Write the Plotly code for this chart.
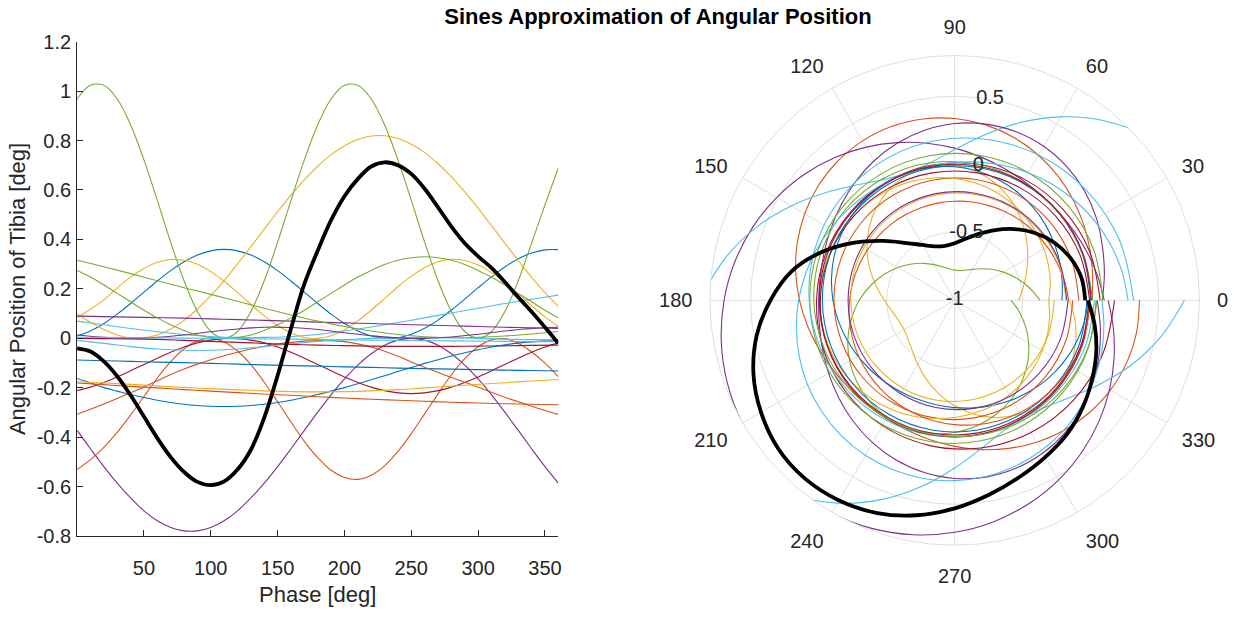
import plotly.graph_objects as go

# Phase samples (deg)
PHASE_10 = list(range(0, 361, 10))
PHASE_20 = list(range(0, 361, 20))

# Sine components of the tibia angle (deg)
BLUE_1 = [0.01, 0.03, 0.06, 0.098, 0.141, 0.187, 0.232, 0.274, 0.31, 0.337, 0.354, 0.36, 0.354, 0.337, 0.31, 0.274,
          0.232, 0.187, 0.141, 0.098, 0.06, 0.03, 0.01, 0.001, 0.003, 0.017, 0.041, 0.074, 0.115, 0.159, 0.205,
          0.249, 0.289, 0.322, 0.345, 0.358, 0.359]
BLUE_2 = [-0.087, -0.09, -0.093, -0.096, -0.098, -0.101, -0.104, -0.107, -0.11, -0.112, -0.115, -0.117, -0.12,
          -0.122, -0.124, -0.126, -0.128, -0.13, -0.132]
BLUE_3 = [-0.162, -0.18, -0.199, -0.213, -0.227, -0.239, -0.25, -0.259, -0.266, -0.271, -0.274, -0.275, -0.274,
          -0.271, -0.266, -0.259, -0.25, -0.239, -0.227, -0.213, -0.199, -0.183, -0.167, -0.151, -0.134, -0.118,
          -0.101, -0.086, -0.071, -0.058, -0.046, -0.035, -0.026, -0.019, -0.014, -0.011, -0.01]
ORANGE_1 = [-0.53, -0.49, -0.44, -0.38, -0.31, -0.235, -0.16, -0.094, -0.042, -0.01, 0.0, -0.014, -0.051, -0.106,
            -0.177, -0.256, -0.338, -0.416, -0.482, -0.533, -0.562, -0.57, -0.553, -0.515, -0.457, -0.385, -0.305,
            -0.224, -0.147, -0.082, -0.034, -0.006, -0.001, -0.02, -0.055, -0.1, -0.155]
ORANGE_2 = [-0.307, -0.286, -0.265, -0.243, -0.22, -0.196, -0.171, -0.146, -0.124, -0.104, -0.086, -0.07, -0.056,
            -0.043, -0.032, -0.023, -0.016, -0.011, -0.009, -0.009, -0.013, -0.022, -0.035, -0.052, -0.072, -0.095,
            -0.117, -0.138, -0.158, -0.177, -0.197, -0.218, -0.238, -0.256, -0.274, -0.291, -0.307]
ORANGE_3 = [-0.18, -0.187, -0.194, -0.2, -0.207, -0.213, -0.219, -0.225, -0.23, -0.236, -0.241, -0.246, -0.25,
            -0.254, -0.258, -0.261, -0.264, -0.266, -0.268]
YELLOW_1 = [0.1, 0.065, 0.036, 0.014, 0.002, 0.002, 0.014, 0.038, 0.073, 0.119, 0.173, 0.234, 0.301, 0.371, 0.442,
            0.512, 0.579, 0.641, 0.696, 0.743, 0.779, 0.804, 0.818, 0.819, 0.808, 0.785, 0.751, 0.706, 0.653, 0.592,
            0.526, 0.456, 0.385, 0.315, 0.247, 0.185, 0.129]
YELLOW_2 = [0.085, 0.118, 0.156, 0.204, 0.248, 0.283, 0.308, 0.319, 0.316, 0.3, 0.27, 0.231, 0.185, 0.137, 0.091,
            0.052, 0.022, 0.004, 0.0, 0.011, 0.035, 0.071, 0.114, 0.161, 0.209, 0.252, 0.286, 0.31, 0.32, 0.315,
            0.297, 0.267, 0.226, 0.18, 0.132, 0.087, 0.048]
YELLOW_3 = [-0.175, -0.18, -0.186, -0.192, -0.198, -0.203, -0.208, -0.212, -0.215, -0.216, -0.215, -0.212, -0.207,
            -0.2, -0.193, -0.186, -0.179, -0.172, -0.166]
PURPLE_1 = [-0.372, -0.446, -0.518, -0.585, -0.645, -0.697, -0.737, -0.764, -0.778, -0.778, -0.764, -0.737, -0.697,
            -0.645, -0.585, -0.518, -0.446, -0.372, -0.298, -0.228, -0.164, -0.108, -0.062, -0.028, -0.007, 0.0,
            -0.007, -0.028, -0.062, -0.108, -0.164, -0.228, -0.298, -0.372, -0.446, -0.518, -0.585]
PURPLE_2 = [0.09, 0.088, 0.086, 0.084, 0.082, 0.079, 0.076, 0.073, 0.07, 0.066, 0.063, 0.06, 0.057, 0.054, 0.051,
            0.048, 0.045, 0.043, 0.04]
PURPLE_3 = [0.014, 0.004, 0.0, 0.004, 0.014, 0.027, 0.038, 0.045, 0.044, 0.036, 0.023, 0.011, 0.002, 0.0, 0.006,
            0.017, 0.03, 0.04, 0.045]
GREEN_1 = [0.968, 1.023, 1.023, 0.968, 0.864, 0.722, 0.558, 0.389, 0.233, 0.109, 0.028, 0.0, 0.028, 0.109, 0.233,
           0.389, 0.558, 0.722, 0.864, 0.968, 1.023, 1.023, 0.968, 0.864, 0.722, 0.558, 0.389, 0.233, 0.109, 0.028,
           0.0, 0.028, 0.109, 0.233, 0.385, 0.54, 0.69]
GREEN_2 = [0.316, 0.29, 0.262, 0.233, 0.205, 0.178, 0.15, 0.122, 0.095, 0.07, 0.048, 0.03, 0.016, 0.007, 0.003,
           0.005, 0.01, 0.018, 0.028]
GREEN_3 = [0.275, 0.248, 0.216, 0.182, 0.148, 0.114, 0.083, 0.055, 0.032, 0.014, 0.004, 0.0, 0.004, 0.014, 0.032,
           0.055, 0.083, 0.114, 0.148, 0.182, 0.216, 0.248, 0.275, 0.299, 0.316, 0.326, 0.33, 0.326, 0.316, 0.299,
           0.275, 0.248, 0.216, 0.182, 0.148, 0.114, 0.083]
LIGHTBLUE_1 = [0.07, 0.055, 0.04, 0.027, 0.016, 0.008, 0.004, 0.004, 0.008, 0.016, 0.03, 0.046, 0.064, 0.083, 0.103,
               0.122, 0.141, 0.158, 0.175]
LIGHTBLUE_2 = [-0.008, -0.02, -0.033, -0.043, -0.048, -0.048, -0.043, -0.033, -0.022, -0.012, -0.005, 0.0, 0.003,
               0.004, 0.003, 0.0, -0.003, -0.005, -0.006]
LIGHTBLUE_3 = [0.005, 0.004, 0.003, 0.002, 0.001, 0.0, -0.001, -0.002, -0.003, -0.005, -0.006, -0.007, -0.008,
               -0.009, -0.01, -0.011, -0.012, -0.013, -0.013]
DARKRED_1 = [-0.211, -0.197, -0.178, -0.156, -0.131, -0.105, -0.08, -0.056, -0.035, -0.018, -0.007, -0.001, -0.001,
             -0.007, -0.018, -0.035, -0.056, -0.08, -0.105, -0.131, -0.156, -0.178, -0.197, -0.211, -0.22, -0.223,
             -0.22, -0.211, -0.197, -0.178, -0.156, -0.131, -0.105, -0.08, -0.056, -0.035, -0.018]
DARKRED_2 = [0.0, -0.001, -0.002, -0.004, -0.008, -0.012, -0.016, -0.02, -0.024, -0.027, -0.029, -0.031, -0.032,
             -0.032, -0.032, -0.031, -0.03, -0.028, -0.027]

# Summed approximation
SUM = [-0.04, -0.053, -0.093, -0.153, -0.23, -0.316, -0.403, -0.48, -0.54, -0.58, -0.593, -0.578, -0.53, -0.45,
       -0.32, -0.15, 0.04, 0.22, 0.355, 0.478, 0.575, 0.645, 0.695, 0.712, 0.7, 0.665, 0.605, 0.53, 0.452, 0.385,
       0.332, 0.285, 0.228, 0.166, 0.108, 0.045, -0.02]

Y_TICKS = [-0.8, -0.6, -0.4, -0.2, 0, 0.2, 0.4, 0.6, 0.8, 1, 1.2]
Y_TICK_TEXT = ["-0.8", "-0.6", "-0.4", "-0.2", "0", "0.2", "0.4", "0.6", "0.8", "1", "1.2"]
X_TICKS = [50, 100, 150, 200, 250, 300, 350]
R_TICKS = [-1, -0.5, 0, 0.5]
R_TICK_TEXT = ["-1", "-0.5", "0", "0.5"]
THETA_TICKS = list(range(0, 360, 30))
THETA_TICK_TEXT = [str(t) for t in THETA_TICKS]

COLORS = ["#0072BD", "#D95319", "#EDB120", "#7E2F8E", "#77AC30", "#4DBEEE", "#A2142F"]

# plotting order follows the default colour cycle
components = [BLUE_1, ORANGE_1, YELLOW_1, PURPLE_1, GREEN_1, LIGHTBLUE_1, DARKRED_1,
              BLUE_2, ORANGE_2, YELLOW_2, PURPLE_2, GREEN_2, LIGHTBLUE_2, DARKRED_2,
              BLUE_3, ORANGE_3, YELLOW_3, PURPLE_3, GREEN_3, LIGHTBLUE_3]


def phase_for(values):
    return PHASE_10 if len(values) == len(PHASE_10) else PHASE_20


TXT = "#262626"
GRID = "#dfdfdf"
FONT = "Liberation Sans, Arial, sans-serif"

fig = go.Figure()

for i, comp in enumerate(components):
    fig.add_trace(go.Scatter(
        x=phase_for(comp), y=comp, mode="lines",
        line=dict(color=COLORS[i % 7], width=1.1, shape="spline"),
        showlegend=False, hoverinfo="skip"))
fig.add_trace(go.Scatter(
    x=PHASE_10, y=SUM, mode="lines",
    line=dict(color="black", width=3.8, shape="spline"),
    showlegend=False, hoverinfo="skip"))

# polar view: colour cycle starts one step later
for i, comp in enumerate(components):
    fig.add_trace(go.Scatterpolar(
        theta=phase_for(comp), r=comp, mode="lines",
        line=dict(color=COLORS[(i + 1) % 7], width=1.1, shape="spline"),
        showlegend=False, hoverinfo="skip"))
fig.add_trace(go.Scatterpolar(
    theta=PHASE_10, r=SUM, mode="lines",
    line=dict(color="black", width=3.8, shape="spline"),
    showlegend=False, hoverinfo="skip"))

# radial tick labels placed along the 80 deg direction
fig.add_trace(go.Scatterpolar(
    theta=[80] * len(R_TICKS), r=R_TICKS, mode="text", text=R_TICK_TEXT,
    textfont=dict(family=FONT, size=20, color=TXT),
    showlegend=False, hoverinfo="skip"))

W, H = 1241, 618
cx, cy, rad = 957, 300, 253.8

fig.update_layout(
    width=W, height=H,
    margin=dict(l=0, r=0, t=0, b=0),
    paper_bgcolor="white", plot_bgcolor="white",
    font=dict(family=FONT, size=20, color=TXT),
    title=dict(text="<b>Sines Approximation of Angular Position</b>",
               x=658 / W, xanchor="center", y=1 - 16 / H, yanchor="middle",
               font=dict(family=FONT, size=22, color="black")),
    xaxis=dict(domain=[77.3 / W, 559.7 / W], range=[0, 360],
               tickvals=X_TICKS, ticks="inside", ticklen=6, tickcolor=TXT,
               showline=True, linecolor=TXT, linewidth=1, showgrid=False,
               zeroline=False, tickfont=dict(size=20), ticklabelstandoff=14,
               title=dict(text="Phase [deg]", font=dict(size=22), standoff=8)),
    yaxis=dict(domain=[1 - 544.7 / H, 1 - 31.7 / H], range=[-0.8, 1.2],
               tickvals=Y_TICKS, ticktext=Y_TICK_TEXT, ticks="inside", ticklen=6,
               tickcolor=TXT, showline=True, linecolor=TXT, linewidth=1,
               showgrid=False, zeroline=False, tickfont=dict(size=20),
               ticklabelstandoff=1,
               title=dict(text="Angular Position of Tibia [deg]", font=dict(size=22), standoff=4)),
    polar=dict(
        domain=dict(x=[(cx - rad) / W, (cx + rad) / W], y=[1 - (cy + rad) / H, 1 - (cy - rad) / H]),
        bgcolor="white",
        radialaxis=dict(range=[-1, 0.8], tickvals=R_TICKS, showticklabels=False, ticks="",
                        showline=False, gridcolor=GRID, gridwidth=1, angle=80),
        angularaxis=dict(rotation=0, direction="counterclockwise",
                         tickmode="array", tickvals=THETA_TICKS, ticktext=THETA_TICK_TEXT,
                         ticks="outside", ticklen=13, tickcolor="rgba(0,0,0,0)",
                         showline=True, linecolor=GRID, linewidth=1, gridcolor=GRID,
                         tickfont=dict(size=20, color=TXT)),
    ),
)

fig.write_html("out.html")
